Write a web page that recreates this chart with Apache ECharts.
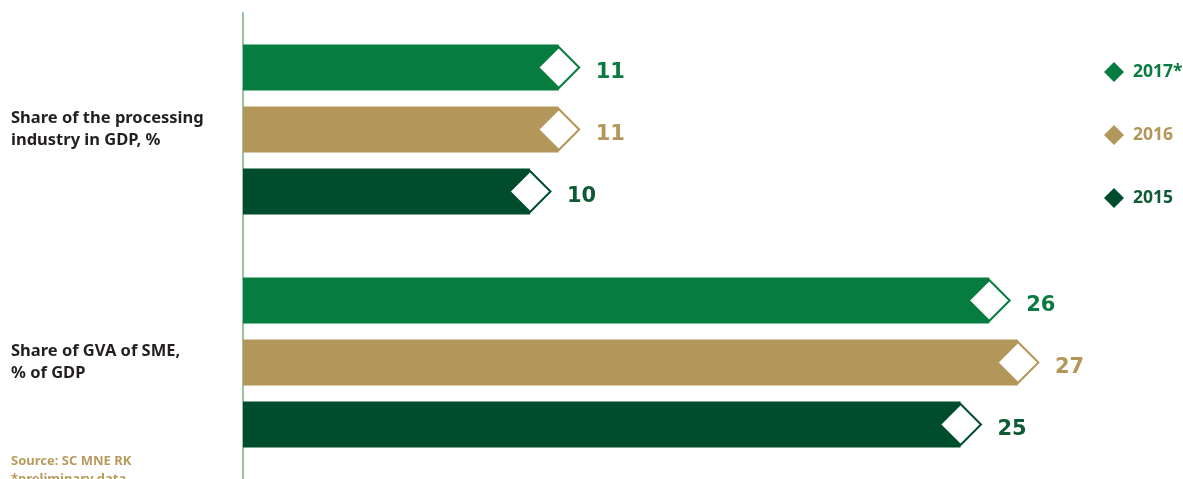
<!DOCTYPE html>
<html>
<head>
<meta charset="utf-8">
<style>
  html, body { margin: 0; padding: 0; background: #ffffff; }
  #chart { width: 1183px; height: 479px; }
</style>
<script src="https://cdn.jsdelivr.net/npm/echarts@6/dist/echarts.min.js"></script>
</head>
<body>
<div id="chart"></div>
<script>
// Indicators (top to bottom)
const categories = ['Share of the processing\nindustry in GDP, %', 'Share of GVA of SME,\n% of GDP'];
// Years, in the order the bars are stacked within each group
const years = ['2017*', '2016', '2015'];
const values2017 = [11, 26];
const values2016 = [11, 27];
const values2015 = [10, 25];
const seriesValues = [values2017, values2016, values2015];

const barColors = ['#077c3f', '#b3975a', '#004d2e'];
const labelColors = ['#0b7a40', '#b3975a', '#0d5a35'];

const BAR_W = 46;
const BAR_GAP = 16;
const DIAMOND_R = 20.5;

const chart = echarts.init(document.getElementById('chart'), null, { renderer: 'canvas' });

const series = [];
years.forEach((y, i) => {
  series.push({
    name: y,
    type: 'bar',
    data: seriesValues[i],
    barWidth: BAR_W,
    barGap: (BAR_GAP / BAR_W * 100).toFixed(2) + '%',
    itemStyle: { color: barColors[i] },
    label: {
      show: true,
      position: 'right',
      distance: 37,
      offset: [0, 5],
      color: labelColors[i],
      fontFamily: 'DejaVu Sans',
      fontWeight: 'bold',
      fontSize: 21
    },
    z: 2
  });
});

// Diamond caps centred on the end of each bar
years.forEach((y, i) => {
  series.push({
    name: y,
    type: 'custom',
    data: seriesValues[i].map((v, c) => [v, c]),
    encode: { x: 0, y: 1 },
    z: 5,
    silent: true,
    renderItem: function (params, api) {
      const p = api.coord([api.value(0), api.value(1)]);
      const cy = p[1] + (i - 1) * (BAR_W + BAR_GAP);
      const cx = p[0];
      const r = DIAMOND_R;
      return {
        type: 'polygon',
        shape: { points: [[cx - r, cy], [cx, cy - r], [cx + r, cy], [cx, cy + r]] },
        style: { fill: '#ffffff', stroke: barColors[i], lineWidth: 2 }
      };
    }
  });
});

chart.setOption({
  animation: false,
  backgroundColor: '#ffffff',
  grid: { left: 243, right: 79, top: 13, height: 466 },
  xAxis: {
    type: 'value',
    min: 0,
    max: 30,
    show: false
  },
  yAxis: {
    type: 'category',
    data: categories,
    inverse: true,
    axisLine: { show: true, lineStyle: { color: '#9cc2a5', width: 2 } },
    axisTick: { show: false },
    axisLabel: {
      align: 'left',
      margin: 232,
      color: '#231f20',
      fontFamily: 'Noto Sans',
      fontWeight: 'bold',
      fontSize: 16.5,
      lineHeight: 22
    }
  },
  legend: {
    orient: 'vertical',
    left: 1099,
    top: 57,
    icon: 'diamond',
    itemWidth: 20,
    itemHeight: 20,
    itemGap: 43,
    selectedMode: false,
    textStyle: {
      fontFamily: 'Noto Sans',
      fontWeight: 'bold',
      fontSize: 17.5,
      padding: [0, 0, 0, 4]
    },
    data: years.map((y, i) => ({ name: y, textStyle: { color: labelColors[i] } }))
  },
  graphic: [
    {
      type: 'text',
      left: 11,
      top: 452,
      style: {
        text: 'Source: SC MNE RK\n*preliminary data',
        fill: '#b99a5e',
        font: 'bold 13px "Noto Sans"',
        lineHeight: 18
      }
    }
  ],
  series: series
});
</script>
</body>
</html>
